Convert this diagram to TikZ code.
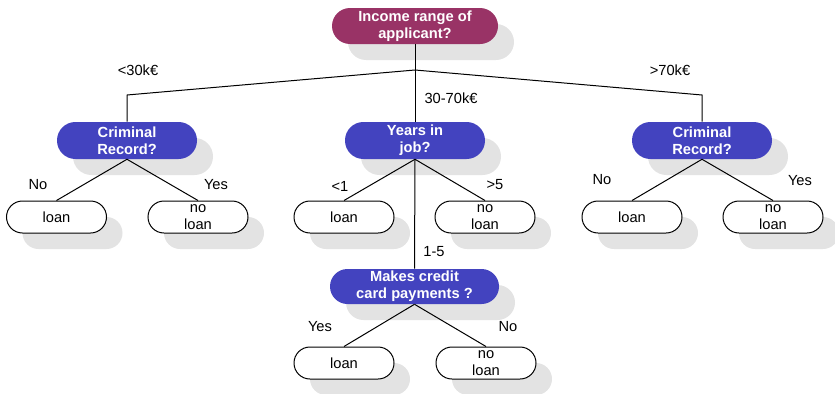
\documentclass[tikz,border=0pt]{standalone}
\usepackage{fontspec}
\setmainfont{Liberation Sans}
\usetikzlibrary{shadows}
\definecolor{rootfill}{HTML}{993366}
\definecolor{testfill}{HTML}{4343BF}
\definecolor{shadowgray}{HTML}{E3E3E3}
\tikzset{
  castshadow/.style={drop shadow={shadow xshift=12pt, shadow yshift=-12pt, fill=shadowgray, opacity=1}},
  boxfont/.style={font=\fontsize{11}{13}\selectfont},
  boldfont/.style={font=\fontsize{11}{12.5}\selectfont\bfseries},
  rootbox/.style={castshadow, fill=rootfill, rounded corners=13.5pt, minimum width=124.5pt,
    minimum height=27pt, inner sep=0pt, text=white, boldfont, align=center},
  testbox/.style={castshadow, fill=testfill, rounded corners=13.8pt, minimum width=105pt,
    minimum height=27.75pt, inner sep=0pt, text=white, boldfont, align=center},
  leafbox/.style={castshadow, draw=black, line width=0.75pt, fill=white, rounded corners=12pt,
    minimum width=75pt, minimum height=24pt, inner sep=0pt, boxfont, align=center},
  lab/.style={boxfont, inner sep=0pt},
  link/.style={draw=black, line width=0.75pt}
}
\begin{document}
\begin{tikzpicture}[x=0.75pt, y=-0.75pt]
\useasboundingbox (0,0) rectangle (835,393);

% decision nodes
\node[rootbox] (root) at (415,26) {Income range of\\applicant?};
\node[testbox] (crl) at (127,140.5) {Criminal\\Record?};
\node[testbox] (yrs) at (415,140.5) {Years in\\job?};
\node[testbox] (crr) at (702,140.5) {Criminal\\Record?};
\node[testbox, minimum width=126.75pt, minimum height=26.25pt, rounded corners=13.1pt]
  (mk) at (414.5,286.5) {Makes credit\\card payments ?};

% leaves
\node[leafbox] (l1) at (56.5,217) {loan};
\node[leafbox] (l2) at (198,217) {no\\loan};
\node[leafbox] (l3) at (344,217) {loan};
\node[leafbox] (l4) at (485,217) {no\\loan};
\node[leafbox] (l5) at (632,217) {loan};
\node[leafbox] (l6) at (773,217) {no\\loan};
\node[leafbox] (l7) at (344,363) {loan};
\node[leafbox] (l8) at (486,363) {no\\loan};

% branches from the root
\coordinate (j) at (415,70);
\coordinate (cl) at (127,95);
\coordinate (cr) at (702,95);
\draw[link] (root.south) -- (j);
\draw[link] (j) -- (cl) -- (crl.north);
\draw[link] (j) -- (cr) -- (crr.north);
\draw[link] (j) -- (yrs.north);
\draw[link] (yrs.south) -- (mk.north);

% branches to the leaves
\draw[link] (crl.south) -- (l1.north);
\draw[link] (crl.south) -- (l2.north);
\draw[link] (yrs.south) -- (l3.north);
\draw[link] (yrs.south) -- (l4.north);
\draw[link] (crr.south) -- (l5.north);
\draw[link] (crr.south) -- (l6.north);
\draw[link] (mk.south) -- (l7.north);
\draw[link] (mk.south) -- (l8.north);

% branch labels
\node[lab] (t1) at (138,70) {<30k€};
\node[lab] (t2) at (451,98) {30-70k€};
\node[lab] (t3) at (670,70) {>70k€};
\node[lab] (t4) at (38,185) {No};
\node[lab] (t5) at (216,185) {Yes};
\node[lab] (t6) at (340,186) {<1};
\node[lab] (t7) at (495,185) {>5};
\node[lab] (t8) at (602,180) {No};
\node[lab] (t9) at (800,181) {Yes};
\node[lab] (t10) at (434,252) {1-5};
\node[lab] (t11) at (320,327) {Yes};
\node[lab] (t12) at (508,327) {No};
\end{tikzpicture}
\end{document}
